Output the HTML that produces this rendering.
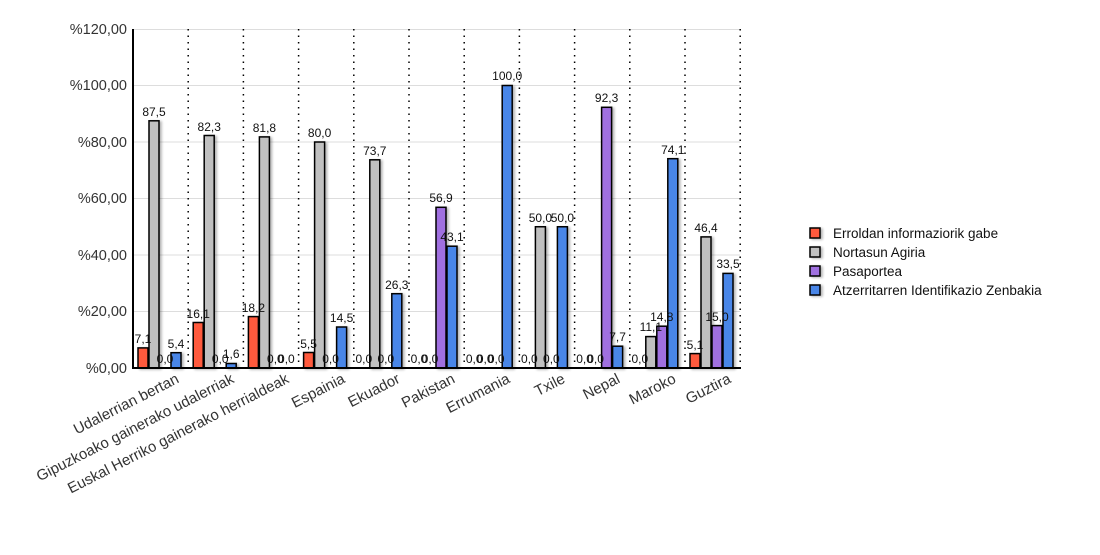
<!DOCTYPE html>
<html><head><meta charset="utf-8"><style>
body{margin:0;background:#fff}
svg{font-family:"Liberation Sans",sans-serif}
.v{font-size:12px;fill:#111;text-anchor:middle}
.y{font-size:14.5px;fill:#333;text-anchor:end}
.c{font-size:15px;fill:#333;text-anchor:end}
.l{font-size:13.5px;fill:#111}
.r{fill:#ff5a3c;stroke:#000;stroke-width:1.5}
.g{fill:#c0c0c0;stroke:#000;stroke-width:1.5}
.p{fill:#a070e0;stroke:#000;stroke-width:1.5}
.b{fill:#4a86e8;stroke:#000;stroke-width:1.5}
</style></head><body>
<svg width="1100" height="550" viewBox="0 0 1100 550">
<defs><filter id="sh" x="-50%" y="-10%" width="200%" height="120%"><feGaussianBlur in="SourceAlpha" stdDeviation="1.2"/><feOffset dx="2" dy="1"/><feComponentTransfer><feFuncA type="linear" slope="0.3"/></feComponentTransfer><feMerge><feMergeNode/><feMergeNode in="SourceGraphic"/></feMerge></filter></defs>
<g stroke="#ddd" stroke-width="1">
<line x1="133" y1="29.5" x2="740" y2="29.5"/><line x1="133" y1="85.5" x2="740" y2="85.5"/><line x1="133" y1="142" x2="740" y2="142"/><line x1="133" y1="198.5" x2="740" y2="198.5"/><line x1="133" y1="255" x2="740" y2="255"/><line x1="133" y1="311.5" x2="740" y2="311.5"/>
</g>
<g stroke="#000" stroke-width="1.5" stroke-dasharray="1.5,5">
<line x1="188.2" y1="29" x2="188.2" y2="368"/><line x1="243.4" y1="29" x2="243.4" y2="368"/><line x1="298.6" y1="29" x2="298.6" y2="368"/><line x1="353.8" y1="29" x2="353.8" y2="368"/><line x1="409" y1="29" x2="409" y2="368"/><line x1="464.2" y1="29" x2="464.2" y2="368"/><line x1="519.4" y1="29" x2="519.4" y2="368"/><line x1="574.6" y1="29" x2="574.6" y2="368"/><line x1="629.8" y1="29" x2="629.8" y2="368"/><line x1="685" y1="29" x2="685" y2="368"/><line x1="740.2" y1="29" x2="740.2" y2="368"/>
</g>
<text class="y" x="127" y="34">%120,00</text><text class="y" x="127" y="90">%100,00</text><text class="y" x="127" y="147">%80,00</text><text class="y" x="127" y="203">%60,00</text><text class="y" x="127" y="260">%40,00</text><text class="y" x="127" y="316">%20,00</text><text class="y" x="127" y="373">%0,00</text>
<g filter="url(#sh)">
<rect class="r" x="138" y="347.9" width="10" height="20.1"/><rect class="g" x="149" y="120.8" width="10" height="247.2"/><rect class="b" x="171" y="352.7" width="10" height="15.3"/>
<rect class="r" x="193.2" y="322.5" width="10" height="45.5"/><rect class="g" x="204.2" y="135.5" width="10" height="232.5"/><rect class="b" x="226.2" y="363.5" width="10" height="4.5"/>
<rect class="r" x="248.4" y="316.6" width="10" height="51.4"/><rect class="g" x="259.4" y="136.9" width="10" height="231.1"/>
<rect class="r" x="303.6" y="352.5" width="10" height="15.5"/><rect class="g" x="314.6" y="142" width="10" height="226"/><rect class="b" x="336.6" y="327" width="10" height="41"/>
<rect class="g" x="369.8" y="159.8" width="10" height="208.2"/><rect class="b" x="391.8" y="293.7" width="10" height="74.3"/>
<rect class="p" x="436" y="207.3" width="10" height="160.7"/><rect class="b" x="447" y="246.2" width="10" height="121.8"/>
<rect class="b" x="502.2" y="85.5" width="10" height="282.5"/>
<rect class="g" x="535.4" y="226.75" width="10" height="141.25"/><rect class="b" x="557.4" y="226.75" width="10" height="141.25"/>
<rect class="p" x="601.6" y="107.3" width="10" height="260.7"/><rect class="b" x="612.6" y="346.2" width="10" height="21.8"/>
<rect class="g" x="645.8" y="336.6" width="10" height="31.4"/><rect class="p" x="656.8" y="326.2" width="10" height="41.8"/><rect class="b" x="667.8" y="158.7" width="10" height="209.3"/>
<rect class="r" x="690" y="353.6" width="10" height="14.4"/><rect class="g" x="701" y="236.9" width="10" height="131.1"/><rect class="p" x="712" y="325.6" width="10" height="42.4"/><rect class="b" x="723" y="273.4" width="10" height="94.6"/>
</g>
<text class="v" x="143" y="343">7,1</text><text class="v" x="154" y="116">87,5</text><text class="v" x="165" y="363">0,0</text><text class="v" x="176" y="348">5,4</text>
<text class="v" x="198.2" y="318">16,1</text><text class="v" x="209.2" y="131">82,3</text><text class="v" x="220.2" y="363">0,0</text><text class="v" x="231.2" y="358">1,6</text>
<text class="v" x="253.4" y="312">18,2</text><text class="v" x="264.4" y="132">81,8</text><text class="v" x="275.4" y="363">0,0</text><text class="v" x="286.4" y="363">0,0</text>
<text class="v" x="308.6" y="348">5,5</text><text class="v" x="319.6" y="137">80,0</text><text class="v" x="330.6" y="363">0,0</text><text class="v" x="341.6" y="322">14,5</text>
<text class="v" x="363.8" y="363">0,0</text><text class="v" x="374.8" y="155">73,7</text><text class="v" x="385.8" y="363">0,0</text><text class="v" x="396.8" y="289">26,3</text>
<text class="v" x="419" y="363">0,0</text><text class="v" x="430" y="363">0,0</text><text class="v" x="441" y="202">56,9</text><text class="v" x="452" y="241">43,1</text>
<text class="v" x="474.2" y="363">0,0</text><text class="v" x="485.2" y="363">0,0</text><text class="v" x="496.2" y="363">0,0</text><text class="v" x="507.2" y="80">100,0</text>
<text class="v" x="529.4" y="363">0,0</text><text class="v" x="540.4" y="222">50,0</text><text class="v" x="551.4" y="363">0,0</text><text class="v" x="562.4" y="222">50,0</text>
<text class="v" x="584.6" y="363">0,0</text><text class="v" x="595.6" y="363">0,0</text><text class="v" x="606.6" y="102">92,3</text><text class="v" x="617.6" y="341">7,7</text>
<text class="v" x="639.8" y="363">0,0</text><text class="v" x="650.8" y="331">11,1</text><text class="v" x="661.8" y="321">14,8</text><text class="v" x="672.8" y="154">74,1</text>
<text class="v" x="695" y="349">5,1</text><text class="v" x="706" y="232">46,4</text><text class="v" x="717" y="321">15,0</text><text class="v" x="728" y="268">33,5</text>
<line x1="133" y1="29" x2="133" y2="369" stroke="#000" stroke-width="2"/>
<line x1="132" y1="368" x2="741" y2="368" stroke="#000" stroke-width="2"/>
<g>
<text class="c" transform="translate(180,382) rotate(-27)">Udalerrian bertan</text>
<text class="c" transform="translate(235,382) rotate(-27)">Gipuzkoako gainerako udalerriak</text>
<text class="c" transform="translate(290,382) rotate(-27)">Euskal Herriko gainerako herrialdeak</text>
<text class="c" transform="translate(346,382) rotate(-27)">Espainia</text>
<text class="c" transform="translate(401,382) rotate(-27)">Ekuador</text>
<text class="c" transform="translate(456,382) rotate(-27)">Pakistan</text>
<text class="c" transform="translate(511,382) rotate(-27)">Errumania</text>
<text class="c" transform="translate(566,382) rotate(-27)">Txile</text>
<text class="c" transform="translate(621,382) rotate(-27)">Nepal</text>
<text class="c" transform="translate(677,382) rotate(-27)">Maroko</text>
<text class="c" transform="translate(732,382) rotate(-27)">Guztira</text>
</g>
<g filter="url(#sh)">
<rect class="r" x="810" y="228" width="10" height="10"/>
<rect class="g" x="810" y="247" width="10" height="10"/>
<rect class="p" x="810" y="266" width="10" height="10"/>
<rect class="b" x="810" y="285" width="10" height="10"/>
</g>
<text class="l" x="833" y="238">Erroldan informaziorik gabe</text>
<text class="l" x="833" y="257">Nortasun Agiria</text>
<text class="l" x="833" y="276">Pasaportea</text>
<text class="l" x="833" y="295">Atzerritarren Identifikazio Zenbakia</text>
</svg>
</body></html>
